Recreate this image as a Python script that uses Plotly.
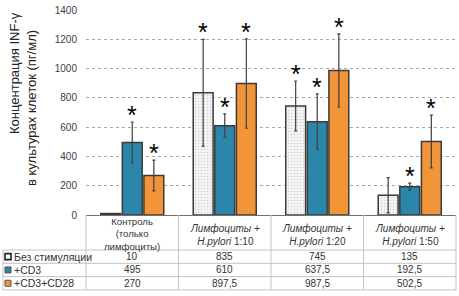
import plotly.graph_objects as go

# ---- data ----
categories = ["Контроль", "1:10", "1:20", "1:50"]
category_labels = [
    "Контроль<br>(только<br>лимфоциты)",
    "<i>Лимфоциты +</i><br><i>H.pylori</i> 1:10",
    "<i>Лимфоциты +</i><br><i>H.pylori</i> 1:20",
    "<i>Лимфоциты +</i><br><i>H.pylori</i> 1:50",
]
series_names = ["Без стимуляции", "+CD3", "+CD3+CD28"]
no_stim = [10, 835, 745, 135]
cd3 = [495, 610, 637.5, 192.5]
cd3_cd28 = [270, 897.5, 987.5, 502.5]
no_stim_err = [0, 365, 170, 120]
cd3_err = [140, 80, 190, 25]
cd3_cd28_err = [105, 305, 250, 180]
no_stim_sig = [False, True, True, False]
cd3_sig = [True, True, True, True]
cd3_cd28_sig = [True, True, True, True]
y_ticks = [0, 200, 400, 600, 800, 1000, 1200, 1400]

# ---- style ----
W, H = 459, 296
ML, MR, MT, MB = 86, 3, 10, 81
PW = W - ML - MR
PH = H - MT - MB
FONT = "Liberation Sans, Arial, sans-serif"
colors = ["#f3f3f3", "#2b86a9", "#f19538"]
edge = "#3a3a3a"
grid_c = "#a8a8a8"
table_c = "#c4c4c4"
text_c = "#333333"
bargap = 0.3
bargroupgap = 0.08

def px2x(px):
    return (px - ML) / PW

def py2y(py):
    return (H - MB - py) / PH

series = [
    (no_stim, no_stim_err, no_stim_sig),
    (cd3, cd3_err, cd3_sig),
    (cd3_cd28, cd3_cd28_err, cd3_cd28_sig),
]

fig = go.Figure()
for si, (vals, errs, sigs) in enumerate(series):
    marker = dict(color=colors[si], line=dict(color=edge, width=1.5))
    if si == 0:
        marker["pattern"] = dict(shape=".", fgcolor="#a8a8a8", bgcolor="#f5f5f5",
                                 size=3, solidity=0.2)
    fig.add_trace(go.Bar(
        x=categories, y=vals, name=series_names[si], marker=marker,
        error_y=dict(type="data", array=errs, visible=True, color="#404040",
                     thickness=1.2, width=1.5),
        showlegend=False, hoverinfo="skip",
    ))

annotations = []
shapes = []

# significance asterisks
slot_px = PW / len(categories) * (1 - bargap) / len(series)
for si, (vals, errs, sigs) in enumerate(series):
    for ci, cat in enumerate(categories):
        if sigs[ci]:
            annotations.append(dict(
                x=cat, y=vals[ci] + errs[ci], xref="x", yref="y", text="*",
                showarrow=False, xshift=(si - 1) * slot_px, yanchor="bottom",
                yshift=-9, font=dict(family=FONT, size=25, color="black")))

# data table
row_top = 250
row_h = 13.3
table_bottom = row_top + row_h * len(series)
col_edges = [ML + PW * i / len(categories) for i in range(len(categories) + 1)]

# vertical lines
for cx in col_edges:
    shapes.append(dict(type="line", xref="paper", yref="paper",
                       x0=px2x(cx), x1=px2x(cx), y0=py2y(H - MB), y1=py2y(table_bottom),
                       line=dict(color=table_c, width=1)))
shapes.append(dict(type="line", xref="paper", yref="paper",
                   x0=px2x(3), x1=px2x(3), y0=py2y(row_top), y1=py2y(table_bottom),
                   line=dict(color=table_c, width=1)))
# horizontal lines
for r in range(len(series) + 1):
    yy = row_top + r * row_h
    shapes.append(dict(type="line", xref="paper", yref="paper",
                       x0=px2x(3), x1=px2x(ML + PW), y0=py2y(yy), y1=py2y(yy),
                       line=dict(color=table_c, width=1)))

# category header labels
for ci, cat in enumerate(categories):
    annotations.append(dict(
        x=cat, y=py2y(233.5 if ci == 0 else 235), xref="x", yref="paper",
        text=category_labels[ci],
        showarrow=False, yanchor="middle", align="center", borderpad=0,
        font=dict(family=FONT, size=9.6 if ci == 0 else 10, color=text_c)))

# rows: legend key + values
for si, (vals, errs, sigs) in enumerate(series):
    cy = row_top + row_h * (si + 0.5)
    shapes.append(dict(type="rect", xref="paper", yref="paper",
                       x0=px2x(5), x1=px2x(11), y0=py2y(cy + 3), y1=py2y(cy - 3),
                       fillcolor="white" if si == 0 else colors[si],
                       line=dict(color="#222222" if si == 0 else "#555555",
                                 width=1.6 if si == 0 else 1)))
    annotations.append(dict(
        x=px2x(12.5), y=py2y(cy), xref="paper", yref="paper", text=series_names[si],
        showarrow=False, xanchor="left", yanchor="middle", borderpad=0,
        font=dict(family=FONT, size=10.5, color=text_c)))
    for ci, cat in enumerate(categories):
        annotations.append(dict(
            x=cat, y=py2y(cy), xref="x", yref="paper",
            text=f"{vals[ci]:g}".replace(".", ","),
            showarrow=False, yanchor="middle", borderpad=0,
            font=dict(family=FONT, size=10, color=text_c)))

# y axis title (two lines)
annotations.append(dict(
    x=px2x(14), y=py2y(73), xref="paper", yref="paper",
    text="Концентрация INF-γ", textangle=-90, showarrow=False,
    xanchor="center", yanchor="middle",
    font=dict(family=FONT, size=13, color="#222222")))
annotations.append(dict(
    x=px2x(31), y=py2y(108), xref="paper", yref="paper",
    text="в культурах клеток (пг/мл)", textangle=-90, showarrow=False,
    xanchor="center", yanchor="middle",
    font=dict(family=FONT, size=13, color="#222222")))

fig.update_layout(
    width=W, height=H, autosize=False,
    margin=dict(l=ML, r=MR, t=MT, b=MB, pad=0),
    paper_bgcolor="white", plot_bgcolor="white",
    barmode="group", bargap=bargap, bargroupgap=bargroupgap,
    font=dict(family=FONT, color=text_c),
    annotations=annotations, shapes=shapes,
    xaxis=dict(showticklabels=False, ticks="", showgrid=False,
               showline=True, linecolor="#707070", linewidth=1),
    yaxis=dict(range=[0, 1400], tickvals=y_ticks, showgrid=True,
               gridcolor=grid_c, griddash="dot", gridwidth=1,
               zeroline=False, showline=False,
               ticks="outside", ticklen=6, tickcolor="rgba(0,0,0,0)",
               tickfont=dict(family=FONT, size=10, color="#404040")),
)

fig.write_html("out.html", config={"displayModeBar": False},
               post_script="document.body.style.margin='0';document.body.style.padding='0';")
